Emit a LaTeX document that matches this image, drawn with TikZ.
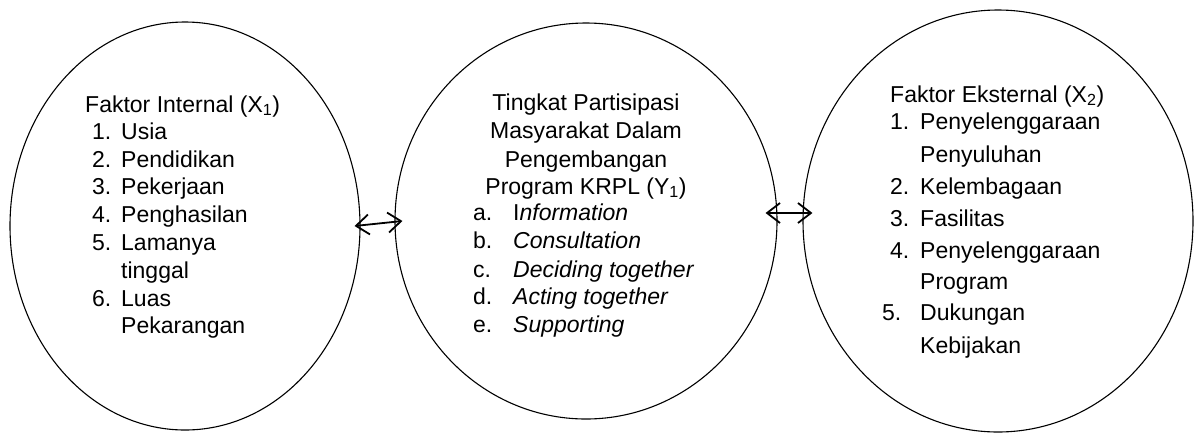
\documentclass[tikz,border=0pt]{standalone}
\usepackage{fontspec}
\setmainfont{Liberation Sans}
\usetikzlibrary{shapes.geometric,arrows.meta}
\tikzset{
  oval/.style={draw, ellipse, line width=1.1pt, inner sep=0pt},
  txt/.style={anchor=base west, inner sep=0pt, font=\fontsize{23}{27}\selectfont},
  ctxt/.style={anchor=base, inner sep=0pt, font=\fontsize{23}{27}\selectfont},
  biarrow/.style={line width=1.8pt, {Straight Barb[length=13pt,width=20pt,line width=1.8pt]}-{Straight Barb[length=13pt,width=20pt,line width=1.8pt]}}
}
\begin{document}
\begin{tikzpicture}[x=1pt,y=-1pt]
\useasboundingbox (0,0) rectangle (1194,432);
% ellipses
\node[oval, minimum width=350pt, minimum height=408pt] (L) at (185,226) {};
\node[oval, minimum width=382pt, minimum height=396pt] (M) at (586,221) {};
\node[oval, minimum width=390pt, minimum height=422pt] (R) at (998,221) {};
% left text
\node[txt] (l0) at (85,112) {Faktor Internal (X\textsubscript{1})};
\node[txt] (l1n) at (92,139) {1.};
\node[txt] (l1) at (121,139) {Usia};
\node[txt] (l2n) at (92,167) {2.};
\node[txt] (l2) at (121,167) {Pendidikan};
\node[txt] (l3n) at (92,194) {3.};
\node[txt] (l3) at (121,194) {Pekerjaan};
\node[txt] (l4n) at (92,222) {4.};
\node[txt] (l4) at (121,222) {Penghasilan};
\node[txt] (l5n) at (92,250) {5.};
\node[txt] (l5) at (121,250) {Lamanya};
\node[txt] (l5b) at (121,278) {tinggal};
\node[txt] (l6n) at (92,306) {6.};
\node[txt] (l6) at (121,306) {Luas};
\node[txt] (l6b) at (121,333) {Pekarangan};
% middle text
\node[ctxt] (m0) at (586,110) {Tingkat Partisipasi};
\node[ctxt] (m1) at (586,138) {Masyarakat Dalam};
\node[ctxt] (m2) at (586,167) {Pengembangan};
\node[ctxt] (m3) at (586,194) {Program KRPL (Y\textsubscript{1})};
\node[txt] (man) at (473,220) {a.};
\node[txt] (ma) at (513,220) {I\textit{nformation}};
\node[txt] (mbn) at (473,248) {b.};
\node[txt] (mb) at (513,248) {\textit{Consultation}};
\node[txt] (mcn) at (473,277) {c.};
\node[txt] (mc) at (513,277) {\textit{Deciding together}};
\node[txt] (mdn) at (473,304) {d.};
\node[txt] (md) at (513,304) {\textit{Acting together}};
\node[txt] (men) at (473,332) {e.};
\node[txt] (me) at (513,332) {\textit{Supporting}};
% right text
\node[txt] (r0) at (890,102) {Faktor Eksternal (X\textsubscript{2})};
\node[txt] (r1n) at (890,129) {1.};
\node[txt] (r1) at (920,129) {Penyelenggaraan};
\node[txt] (r1b) at (920,162) {Penyuluhan};
\node[txt] (r2n) at (890,194) {2.};
\node[txt] (r2) at (920,194) {Kelembagaan};
\node[txt] (r3n) at (890,226) {3.};
\node[txt] (r3) at (920,226) {Fasilitas};
\node[txt] (r4n) at (890,258) {4.};
\node[txt] (r4) at (920,258) {Penyelenggaraan};
\node[txt] (r4b) at (920,289) {Program};
\node[txt] (r5n) at (882,320) {5.};
\node[txt] (r5) at (920,320) {Dukungan};
\node[txt] (r5b) at (920,353) {Kebijakan};
% connectors
\draw[biarrow] ([xshift=-6pt]L.east) -- ([xshift=8pt]M.west);
\draw[biarrow] ([xshift=-12pt,yshift=8pt]M.east) -- ([xshift=10pt,yshift=8pt]R.west);
\end{tikzpicture}
\end{document}
